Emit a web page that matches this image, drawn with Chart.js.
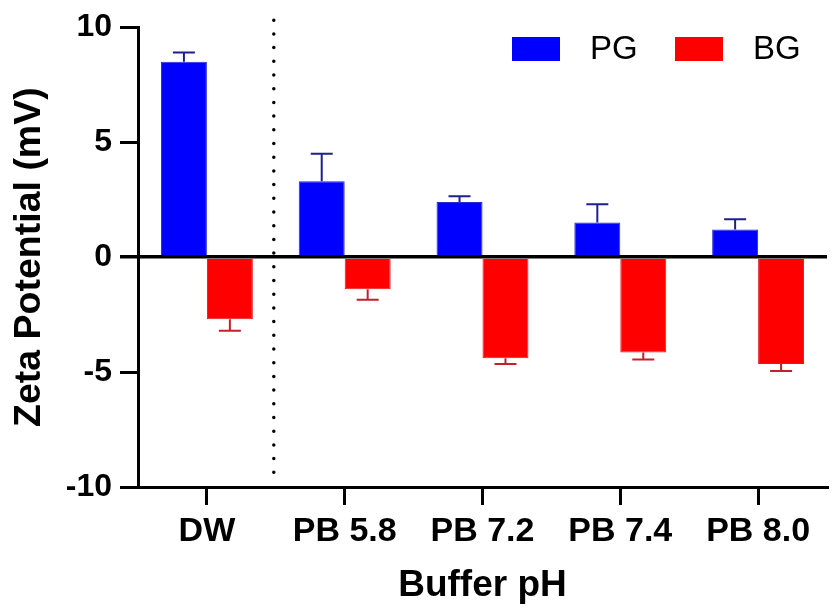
<!DOCTYPE html>
<html>
<head>
<meta charset="utf-8">
<script src="https://cdn.jsdelivr.net/npm/chart.js@4/dist/chart.umd.min.js"></script>
<style>
  body { margin: 0; background: #fff; }
</style>
</head>
<body>
<canvas id="myChart" width="833" height="608"></canvas>
<script>
var labels = ["DW", "PB 5.8", "PB 7.2", "PB 7.4", "PB 8.0"];
var pgValues = [8.5, 3.3, 2.4, 1.5, 1.2];
var pgErrors = [0.4, 1.2, 0.25, 0.8, 0.45];
var bgValues = [-2.7, -1.4, -4.4, -4.15, -4.65];
var bgErrors = [0.5, 0.45, 0.25, 0.3, 0.3];
var yTicks = [-10, -5, 0, 5, 10];

var FONT = "'Liberation Sans', Arial, sans-serif";

// error bars, pointing away from zero
var errorBars = {
    id: "errorBars",
    afterDatasetsDraw: function(chart) {
        var ctx = chart.ctx;
        var y = chart.scales.y;
        chart.data.datasets.forEach(function(ds, i) {
            var meta = chart.getDatasetMeta(i);
            meta.data.forEach(function(bar, j) {
                var v = ds.data[j];
                var e = ds.errors[j];
                var end = y.getPixelForValue(v >= 0 ? v + e : v - e);
                ctx.save();
                ctx.strokeStyle = ds.errorColor;
                ctx.lineWidth = 2;
                ctx.beginPath();
                ctx.moveTo(bar.x, bar.y);
                ctx.lineTo(bar.x, end);
                ctx.moveTo(bar.x - 11, end);
                ctx.lineTo(bar.x + 11, end);
                ctx.stroke();
                ctx.restore();
            });
        });
    }
};

// dotted separator between DW and the buffers + legend
var extras = {
    id: "extras",
    afterDraw: function(chart) {
        var ctx = chart.ctx;
        var x = chart.scales.x;
        var area = chart.chartArea;
        var sx = (x.getPixelForValue(0) + x.getPixelForValue(1)) / 2 - 2;
        ctx.save();
        ctx.strokeStyle = "#000";
        ctx.lineWidth = 3.5;
        ctx.lineCap = "round";
        ctx.setLineDash([0, 13.7]);
        ctx.beginPath();
        ctx.moveTo(sx, area.top - 7);
        ctx.lineTo(sx, area.bottom - 14);
        ctx.stroke();
        ctx.restore();

        // legend
        var lx = [512, 675];
        ctx.save();
        ctx.font = "33px " + FONT;
        ctx.textBaseline = "middle";
        ctx.textAlign = "left";
        chart.data.datasets.forEach(function(ds, i) {
            ctx.fillStyle = ds.backgroundColor;
            ctx.fillRect(lx[i], 37, 48, 24);
            ctx.fillStyle = "#000";
            ctx.fillText(ds.label, lx[i] + 78, 50);
        });
        ctx.restore();
    }
};

var ctx = document.getElementById("myChart").getContext("2d");

var data = {
    labels: labels,
    datasets: [{
        label: "PG",
        data: pgValues,
        errors: pgErrors,
        errorColor: "#1f1f8f",
        backgroundColor: "#0000ff",
        borderColor: "#2a2ad0",
        borderWidth: 1
    }, {
        label: "BG",
        data: bgValues,
        errors: bgErrors,
        errorColor: "#c4202a",
        backgroundColor: "#ff0000",
        borderColor: "#e01818",
        borderWidth: 1
    }]
};

var options = {
    responsive: false,
    animation: false,
    layout: { padding: { top: 25, right: 6, left: 0, bottom: 0 } },
    categoryPercentage: 0.667,
    barPercentage: 1.0,
    plugins: {
        legend: { display: false },
        tooltip: { enabled: false }
    },
    scales: {
        x: {
            grid: {
                offset: false,
                drawOnChartArea: false,
                drawTicks: true,
                tickLength: 18,
                lineWidth: 3,
                color: "#000"
            },
            border: { display: true, width: 3, color: "#000" },
            ticks: {
                color: "#000",
                padding: 6,
                maxRotation: 0,
                font: { family: FONT, size: 34, weight: "bold" }
            },
            title: {
                display: true,
                text: "Buffer pH",
                color: "#000",
                padding: { top: 0, bottom: 0 },
                font: { family: FONT, size: 37, weight: "bold" }
            },
            afterFit: function(scale) { scale.height = 121; }
        },
        y: {
            min: -10,
            max: 10,
            afterBuildTicks: function(scale) {
                scale.ticks = yTicks.map(function(v) { return { value: v }; });
            },
            grid: {
                drawOnChartArea: true,
                drawTicks: true,
                tickLength: 18,
                lineWidth: function(c) { return c.tick && c.tick.value === 0 ? 3.5 : 3; },
                color: function(c) { return c.tick && c.tick.value === 0 ? "#000" : "rgba(0,0,0,0)"; },
                tickColor: "#000"
            },
            border: { display: true, width: 3, color: "#000" },
            ticks: {
                color: "#000",
                padding: 8,
                font: { family: FONT, size: 32, weight: "bold" }
            },
            title: {
                display: true,
                text: "Zeta Potential (mV)",
                color: "#000",
                padding: { top: 7, bottom: 0 },
                font: { family: FONT, size: 37.5, weight: "bold" }
            },
            afterFit: function(scale) { scale.width = 138; }
        }
    }
};

var myChart = new Chart(ctx, {
    type: "bar",
    data: data,
    options: options,
    plugins: [errorBars, extras]
});
</script>
</body>
</html>
